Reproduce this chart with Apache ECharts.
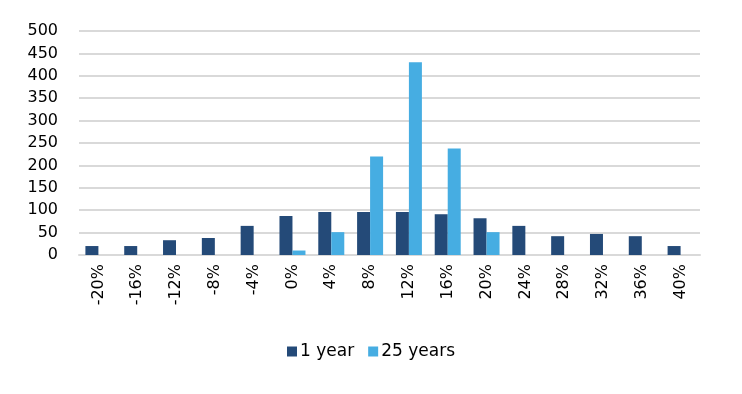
<!DOCTYPE html>
<html><head><meta charset="utf-8">
<script src="https://cdn.jsdelivr.net/npm/echarts@6/dist/echarts.min.js"></script>
<style>html,body{margin:0;padding:0;background:#fff}#c{width:742px;height:394px}</style>
</head><body><div id="c"></div>
<script>
const categories = ['-20%','-16%','-12%','-8%','-4%','0%','4%','8%','12%','16%','20%','24%','28%','32%','36%','40%'];
const oneYear = [20,20,33,38,65,87,96,96,96,91,82,65,42,47,42,20];
const twentyFiveYears = [0,0,0,0,0,10,51,220,430,238,51,0,0,0,0,0];
const yTicks = [0,50,100,150,200,250,300,350,400,450,500];
const font = 'DejaVu Sans, Verdana, sans-serif';
const chart = echarts.init(document.getElementById('c'));
chart.setOption({
  animation: false,
  grid: {left: 79, right: 42, top: 31, bottom: 139},
  legend: {
    data: ['1 year','25 years'], top: 338, left: 'center',
    itemWidth: 10, itemHeight: 10, itemGap: 14, icon: 'rect',
    textStyle: {fontFamily: font, fontSize: 17, color: '#000', padding: [0,0,0,-2]}
  },
  xAxis: {
    type: 'category', data: categories,
    axisLine: {show: true, lineStyle: {color: '#d9d9d9', width: 2}},
    axisTick: {show: false},
    axisLabel: {rotate: 90, fontFamily: font, fontSize: 16, color: '#000', margin: 9, interval: 0}
  },
  yAxis: {
    type: 'value', min: yTicks[0], max: yTicks[yTicks.length-1], interval: 50,
    axisLine: {show: false}, axisTick: {show: false},
    axisLabel: {fontFamily: font, fontSize: 16, color: '#000', margin: 21},
    splitLine: {lineStyle: {color: '#d9d9d9', width: 2}}
  },
  series: [
    {name: '1 year', type: 'bar', data: oneYear, itemStyle: {color: '#244a78'}, barGap: '0%', barCategoryGap: '33%'},
    {name: '25 years', type: 'bar', data: twentyFiveYears, itemStyle: {color: '#46ade2'}}
  ]
});
</script></body></html>
